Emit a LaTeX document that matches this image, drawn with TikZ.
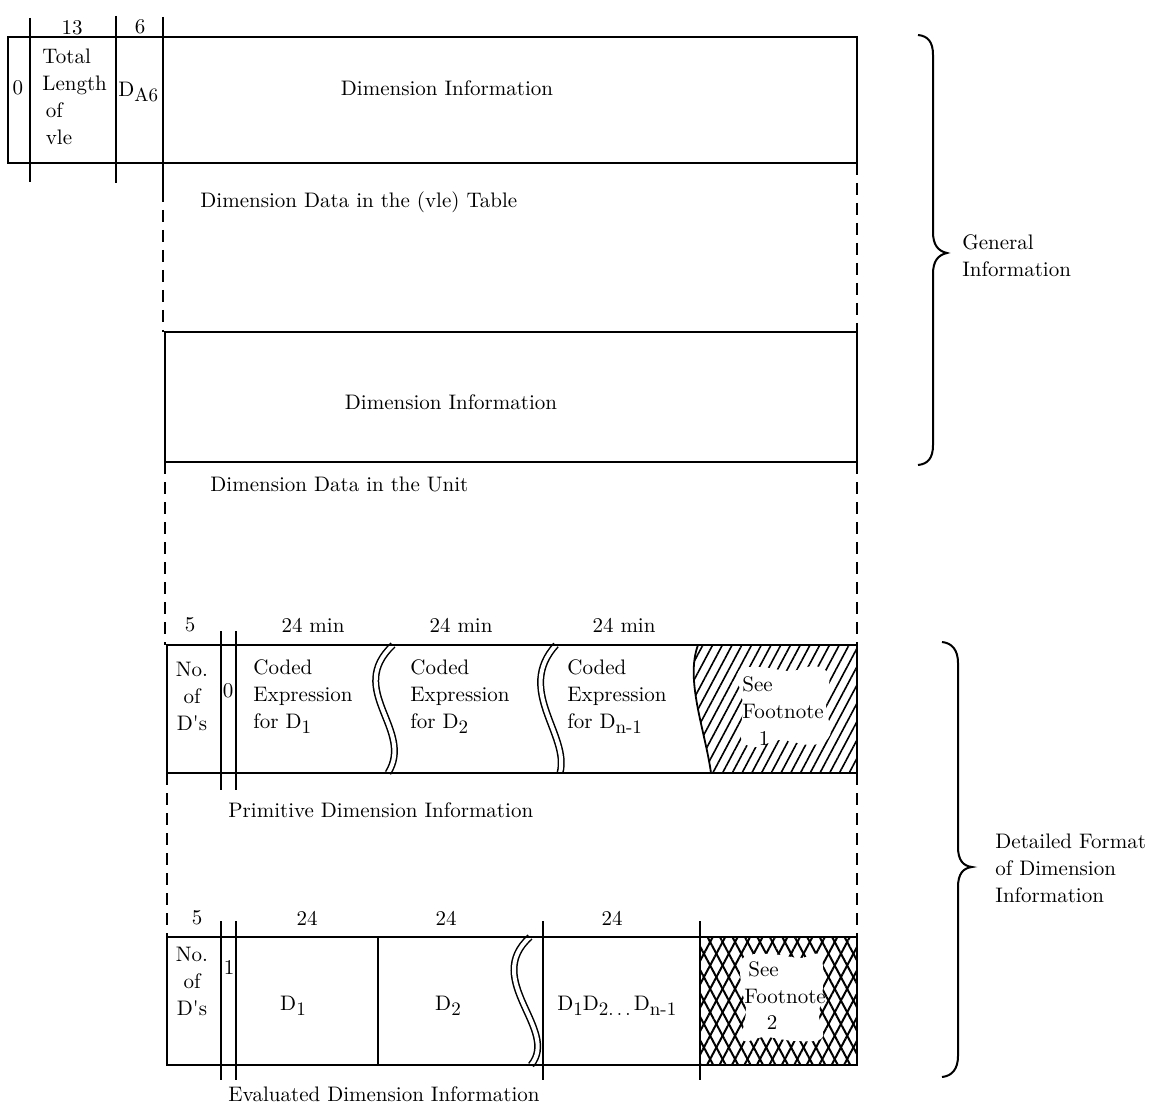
\documentclass[tikz,border=0pt]{standalone}
\usetikzlibrary{patterns.meta}
\newcommand\lowsub[1]{\raisebox{-0.55ex}{\fontsize{9.5}{9.5}\selectfont #1}}
\begin{document}
\begin{tikzpicture}[x=0.5pt,y=-0.5pt,
  font=\fontsize{10.5}{13.5}\selectfont,
  boxline/.style={line width=1pt},
  tickline/.style={line width=1pt},
  dashline/.style={line width=1pt, dash pattern=on 6pt off 4pt},
  wave/.style={double, double distance=2pt, line width=0.75pt},
  lbl/.style={inner sep=0pt, align=center},
  ltxt/.style={inner sep=0pt, anchor=west, align=left},
  bracel/.style={line width=1pt}]
\useasboundingbox (0,0) rectangle (1149,1106);

% ---------- top box ----------
\draw[boxline] (8,37) rectangle (857,163);
\draw[tickline] (30,18) -- (30,182);
\draw[tickline] (116,16) -- (116,183);
\draw[tickline] (163,17) -- (163,190);
\node[lbl] (n13) at (72,28) {13};
\node[lbl] (n6) at (140,27) {6};
\node[lbl] (z0) at (18,88) {0};
\node[ltxt] (tlen) at (42,97) {Total\\Length\\\,of\\\,vle};
\node[ltxt] (da6) at (118,92) {D\lowsub{A6}};
\node[lbl] (di1) at (447,88) {Dimension Information};

\draw[dashline] (163,190) -- (163,332);
\draw[dashline] (857,163) -- (857,332);
\node[ltxt] (ddv) at (200,202) {Dimension Data in the (vle) Table};

% ---------- second box ----------
\draw[boxline] (165,332) rectangle (857,462);
\node[lbl] (di2) at (451,402) {Dimension Information};
\draw[dashline] (165,462) -- (165,645);
\draw[dashline] (857,462) -- (857,645);
\node[ltxt] (ddu) at (210,484) {Dimension Data in the Unit};

% ---------- primitive row ----------
\fill[pattern={Lines[angle=62,distance=4.3pt,line width=0.8pt]}]
  (698,645) .. controls (685,680) and (705,730) .. (711,773) -- (857,773) -- (857,645) -- cycle;
\fill[white] plot[smooth cycle, tension=0.6] coordinates {(738,672) (760,667) (790,671) (815,666) (829,676) (826,705) (830,735) (812,745) (780,740) (755,747) (741,738) (743,705)};
\draw[line width=0.9pt] (698,645) .. controls (685,680) and (705,730) .. (711,773);
\draw[wave] (393,645) .. controls (345,690) and (415,730) .. (388,773);
\draw[wave] (556,645) .. controls (515,690) and (570,735) .. (560,773);
\draw[boxline] (167,645) rectangle (857,773);
\draw[tickline] (221,631) -- (221,790);
\draw[tickline] (236,631) -- (236,790);
\node[lbl] (p5) at (190,625) {5};
\node[lbl] (p24a) at (313,625) {24 min};
\node[lbl] (p24b) at (461,625) {24 min};
\node[lbl] (p24c) at (624,625) {24 min};
\node[lbl] (pnod) at (192,696) {No.\\of\\D\textquotesingle s};
\node[lbl] (p0) at (228,691) {0};
\node[ltxt] (pc1) at (253,697) {Coded\\Expression\\for D\lowsub{1}};
\node[ltxt] (pc2) at (410,697) {Coded\\Expression\\for D\lowsub{2}};
\node[ltxt] (pc3) at (567,697) {Coded\\Expression\\for D\lowsub{n-1}};
\node[ltxt] (psee) at (742,684) {See};
\node[ltxt] (pfoot) at (742,711) {Footnote};
\node[lbl] (pone) at (764,738) {1};
\node[ltxt] (pdi) at (228,810) {Primitive Dimension Information};

\draw[dashline] (167,773) -- (167,937);
\draw[dashline] (857,773) -- (857,937);

% ---------- evaluated row ----------
\fill[pattern={Lines[angle=62,distance=5.5pt,line width=1pt]}] (700,937) rectangle (857,1065);
\fill[pattern={Lines[angle=118,distance=5.5pt,line width=1pt]}] (700,937) rectangle (857,1065);
\fill[white] plot[smooth cycle, tension=0.6] coordinates {(743,958) (770,954) (800,958) (820,955) (823,985) (819,1015) (822,1038) (795,1041) (765,1037) (743,1040) (746,1010) (741,985)};
\draw[wave] (530,937) .. controls (482,980) and (560,1030) .. (531,1065);
\draw[boxline] (167,937) rectangle (857,1065);
\draw[tickline] (221,921) -- (221,1080);
\draw[tickline] (236,921) -- (236,1080);
\draw[tickline] (378,937) -- (378,1065);
\draw[tickline] (543,921) -- (543,1080);
\draw[tickline] (700,921) -- (700,1080);
\node[lbl] (e5) at (197,918) {5};
\node[lbl] (e24a) at (307,918) {24};
\node[lbl] (e24b) at (446,918) {24};
\node[lbl] (e24c) at (612,918) {24};
\node[lbl] (enod) at (192,981) {No.\\of\\D\textquotesingle s};
\node[lbl] (e1) at (229,967) {1};
\node[lbl] (ed1) at (293,1006) {D\lowsub{1}};
\node[lbl] (ed2) at (448,1006) {D\lowsub{2}};
\node[ltxt] (edn) at (557,1006) {D\lowsub{1}D\lowsub{2}\lowsub{.\,.\,.\,}D\lowsub{n-1}};
\node[ltxt] (esee) at (748,969) {See};
\node[ltxt] (efoot) at (744,996) {Footnote};
\node[lbl] (etwo) at (772,1022) {2};
\node[ltxt] (edi) at (228,1094) {Evaluated Dimension Information};

% ---------- braces ----------
\draw[bracel] (918,35) .. controls (928,36) and (933,42) .. (933,55) -- (933,232)
  .. controls (933,245) and (938,251) .. (947,253)
  .. controls (938,255) and (933,261) .. (933,274) -- (933,445)
  .. controls (933,458) and (928,464) .. (918,465);
\node[ltxt] (gen) at (962,256) {General\\Information};

\draw[bracel] (942,642) .. controls (952,643) and (958,650) .. (958,663) -- (958,847)
  .. controls (958,860) and (963,866) .. (972,867)
  .. controls (963,868) and (958,874) .. (958,887) -- (958,1056)
  .. controls (958,1069) and (952,1076) .. (942,1077);
\node[ltxt] (det) at (995,868) {Detailed Format\\of Dimension\\Information};
\end{tikzpicture}
\end{document}
